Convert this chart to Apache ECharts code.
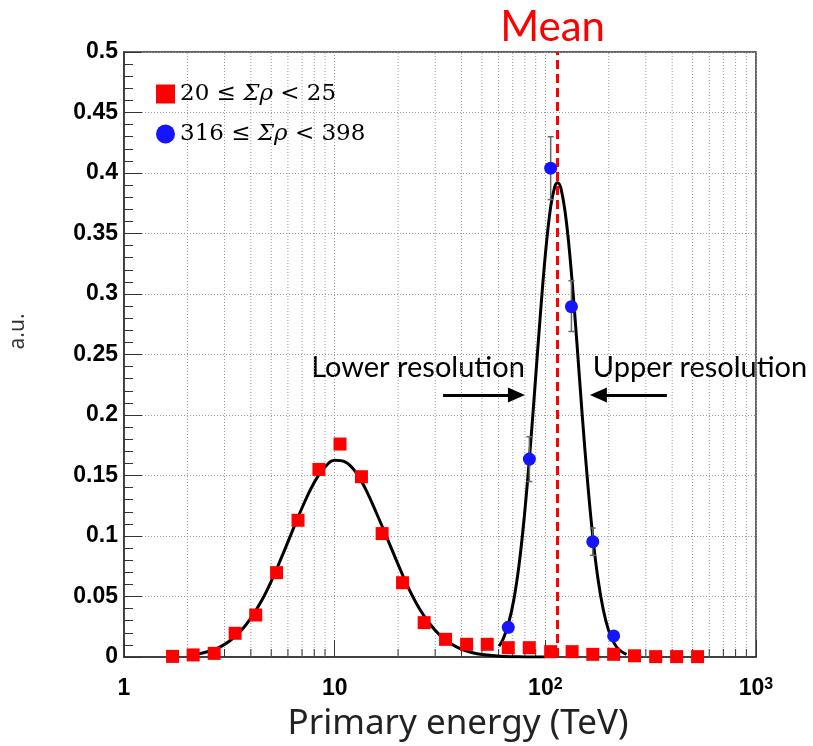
<!DOCTYPE html>
<html><head><meta charset="utf-8">
<script src="https://cdn.jsdelivr.net/npm/echarts@6/dist/echarts.min.js"></script>
<style>html,body{margin:0;padding:0;background:#fff}#c{width:813px;height:746px}</style>
</head><body><div id="c"></div>
<script>
// ---- data ----
const redName = '20 ≤ Σρ < 25';
const blueName = '316 ≤ Σρ < 398';

const redE = [1.7, 2.13, 2.68, 3.37, 4.22, 5.3, 6.7, 8.42, 10.6, 13.4, 16.8, 21.0, 26.6, 33.6, 42.3, 53.0, 66.7, 83.9, 106, 134, 168, 211, 265, 334, 420, 528];
const redY = [0.0005, 0.0017, 0.003, 0.0196, 0.0347, 0.0697, 0.113, 0.155, 0.176, 0.149, 0.102, 0.0614, 0.0284, 0.0146, 0.0105, 0.0105, 0.0077, 0.0077, 0.0044, 0.0044, 0.0022, 0.0022, 0.001, 0.0003, 0.0003, 0.0003];

const blueE = [66.7, 84.0, 106, 133, 168, 211];
const blueY = [0.0245, 0.1636, 0.404, 0.2895, 0.0953, 0.0174];
const blueLo = [0.0205, 0.145, 0.378, 0.269, 0.084, 0.0145];
const blueHi = [0.0285, 0.182, 0.430, 0.311, 0.1066, 0.0205];

const redFitE = [2.06, 2.24, 2.51, 2.82, 3.16, 3.55, 3.98, 4.47, 5.01, 5.62, 6.31, 7.08, 7.94, 8.91, 10.0, 11.2, 12.6, 14.1, 15.8, 17.8, 20.0, 22.4, 25.1, 28.2, 31.6, 35.5, 39.8, 44.7, 50.1, 63.1, 79.4, 100];
const redFitY = [0.0015, 0.0024, 0.0045, 0.0078, 0.0130, 0.0207, 0.0315, 0.0456, 0.0630, 0.0831, 0.1045, 0.1252, 0.1432, 0.1562, 0.1626, 0.1613, 0.1527, 0.1379, 0.1188, 0.0976, 0.0765, 0.0571, 0.0407, 0.0277, 0.0180, 0.0111, 0.0066, 0.0037, 0.0020, 0.0005, 0.0001, 0.0];

const blueFitE = [60.3, 63.1, 66.8, 70.8, 75.0, 79.4, 84.1, 89.1, 94.4, 100, 105.9, 110.9, 114.3, 118.9, 125.9, 133.4, 141.3, 149.6, 158.5, 167.9, 177.8, 188.4, 199.5, 211.3, 223.9, 242.7];
const blueFitY = [0.0089, 0.0150, 0.0274, 0.0470, 0.0759, 0.1153, 0.1647, 0.2213, 0.2797, 0.3324, 0.3716, 0.3888, 0.392, 0.3865, 0.3595, 0.3146, 0.2589, 0.2004, 0.1459, 0.0999, 0.0644, 0.0390, 0.0222, 0.0119, 0.0060, 0.0021];

const meanE = 114.3;

const lowerArrowE = [32.7, 72.9];
const upperArrowE = [377.6, 178.6];
const arrowY = 0.2165;

const xTickValues = [1, 10, 100, 1000];
const xTickLabels = ['1', '10', '10{sup|2}', '10{sup|3}'];
const yTickLabels = ['0', '0.05', '0.1', '0.15', '0.2', '0.25', '0.3', '0.35', '0.4', '0.45', '0.5'];
const minorX = [2, 3, 4, 5, 6, 7, 8, 9, 20, 30, 40, 50, 60, 70, 80, 90, 200, 300, 400, 500, 600, 700, 800, 900];

// ---- chart ----
const chart = echarts.init(document.getElementById('c'), null, {renderer: 'canvas'});
const zip = (a, b) => a.map((v, i) => [v, b[i]]);
const dotted = [1, 2];

const option = {
  animation: false,
  backgroundColor: '#fff',
  grid: {left: 124, right: 57, top: 52, bottom: 89, show: true, borderColor: '#333', borderWidth: 1.5,
    backgroundColor: 'transparent', containLabel: false, outerBoundsMode: 'none'},
  legend: {
    data: [redName, blueName],
    orient: 'vertical', left: 151, top: 74,
    itemWidth: 19, itemHeight: 19, itemGap: 10,
    textStyle: {fontFamily: 'DejaVu Serif', fontSize: 23, color: '#000', lineHeight: 30,
      rich: {i: {fontFamily: 'DejaVu Serif', fontStyle: 'italic', fontSize: 23, color: '#000', lineHeight: 30}}},
    formatter: name => name.replace('Σρ', '{i|Σρ}')
  },
  xAxis: {
    type: 'log', logBase: 10, min: 1, max: 1000,
    axisLine: {show: true, lineStyle: {color: '#333', width: 1.5}},
    axisTick: {show: true, inside: true, length: 17, lineStyle: {color: '#333', width: 1}},
    minorTick: {show: false},
    splitLine: {show: true, lineStyle: {type: dotted, color: '#999', width: 1}},
    axisLabel: {
      margin: 20, color: '#000', fontFamily: 'Liberation Sans', fontWeight: 'bold', fontSize: 23,
      formatter: v => { const i = xTickValues.indexOf(Math.round(v)); return i >= 0 ? xTickLabels[i] : ''; },
      rich: {sup: {fontFamily: 'Liberation Sans', fontWeight: 'bold', fontSize: 16, verticalAlign: 'top', lineHeight: 12, color: '#000'}}
    }
  },
  yAxis: {
    type: 'value', min: 0, max: 0.5, interval: 0.05,
    name: 'a.u.', nameLocation: 'middle', nameGap: 95, nameRotate: 90,
    nameTextStyle: {fontFamily: 'Noto Sans', fontSize: 21, color: '#333', padding: [0, 0, 0, 46]},
    axisLine: {show: true, lineStyle: {color: '#333', width: 1.5}},
    axisTick: {show: true, inside: true, length: 18, lineStyle: {color: '#333', width: 1}},
    minorTick: {show: true, splitNumber: 5, length: 9, lineStyle: {color: '#333', width: 1}},
    splitLine: {show: true, lineStyle: {type: dotted, color: '#999', width: 1}},
    axisLabel: {
      margin: 6, color: '#000', fontFamily: 'Liberation Sans', fontWeight: 'bold', fontSize: 23,
      formatter: v => yTickLabels[Math.round(v / 0.05)]
    }
  },
  graphic: [
    {type: 'text', x: 458, y: 724,
      style: {text: 'Primary energy (TeV)', fontFamily: 'Noto Sans', fontSize: 35, fill: '#222', align: 'center', verticalAlign: 'middle'}},
    {type: 'text', x: 418, y: 368,
      style: {text: 'Lower resolution', fontFamily: 'Lato', fontSize: 29, fill: '#000', align: 'center', verticalAlign: 'middle'}},
    {type: 'text', x: 700, y: 368,
      style: {text: 'Upper resolution', fontFamily: 'Lato', fontSize: 29, fill: '#000', align: 'center', verticalAlign: 'middle'}}
  ],
  series: [
    {
      type: 'custom', silent: true, z: 1,
      data: minorX.map(v => [v, 0]),
      encode: {x: 0, y: 1},
      renderItem: (params, api) => {
        const x = api.value(0);
        const p0 = api.coord([x, 0]);
        const p1 = api.coord([x, 0.5]);
        return {type: 'group', children: [
          {type: 'line', shape: {x1: p0[0], y1: p0[1], x2: p1[0], y2: p1[1]}, style: {stroke: '#999', lineWidth: 1, lineDash: dotted}},
          {type: 'line', shape: {x1: p0[0], y1: p0[1], x2: p0[0], y2: p0[1] - 8}, style: {stroke: '#333', lineWidth: 1}}
        ]};
      }
    },
    {
      name: 'redFit', type: 'line', z: 3, smooth: 0.4, showSymbol: false, silent: true,
      data: zip(redFitE, redFitY),
      lineStyle: {color: '#000', width: 3}
    },
    {
      name: 'blueFit', type: 'line', z: 3, smooth: 0.4, showSymbol: false, silent: true,
      data: zip(blueFitE, blueFitY),
      lineStyle: {color: '#000', width: 3}
    },
    {
      name: redName, type: 'scatter', z: 5, symbol: 'rect', symbolSize: 13,
      data: zip(redE, redY),
      itemStyle: {color: '#ff0000', opacity: 1}
    },
    {
      type: 'custom', z: 4, silent: true,
      data: blueE.map((e, i) => [e, blueLo[i], blueHi[i]]),
      encode: {x: 0, y: [1, 2]},
      renderItem: (params, api) => {
        const x = api.value(0);
        const lo = api.coord([x, api.value(1)]);
        const hi = api.coord([x, api.value(2)]);
        return {type: 'group', children: [
          {type: 'line', shape: {x1: lo[0], y1: lo[1], x2: hi[0], y2: hi[1]}, style: {stroke: '#666', lineWidth: 1.5}},
          {type: 'line', shape: {x1: hi[0] - 3, y1: hi[1], x2: hi[0] + 3, y2: hi[1]}, style: {stroke: '#666', lineWidth: 1.5}},
          {type: 'line', shape: {x1: lo[0] - 3, y1: lo[1], x2: lo[0] + 3, y2: lo[1]}, style: {stroke: '#666', lineWidth: 1.5}}
        ]};
      }
    },
    {
      name: blueName, type: 'scatter', z: 5, symbol: 'circle', symbolSize: 13,
      data: zip(blueE, blueY),
      itemStyle: {color: '#1414ff', opacity: 1}
    },
    {
      type: 'line', z: 6, silent: true, data: [],
      markLine: {
        silent: true, symbol: ['none', 'none'], animation: false,
        lineStyle: {color: '#ff0000', type: [9, 5], width: 3},
        label: {show: true, position: 'end', formatter: 'Mean', color: '#ff0000', fontFamily: 'Lato', fontSize: 42, distance: 4, offset: [-5, 0]},
        data: [{xAxis: meanE}]
      }
    },
    {
      type: 'line', z: 6, silent: true, data: [],
      markLine: {
        silent: true, animation: false,
        symbol: ['none', 'triangle'], symbolSize: [15, 17],
        lineStyle: {color: '#000', type: 'solid', width: 3},
        label: {show: false},
        data: [
          [{coord: [lowerArrowE[0], arrowY]}, {coord: [lowerArrowE[1], arrowY]}],
          [{coord: [upperArrowE[0], arrowY]}, {coord: [upperArrowE[1], arrowY]}]
        ]
      }
    }
  ]
};
chart.setOption(option);
</script>
</body></html>
